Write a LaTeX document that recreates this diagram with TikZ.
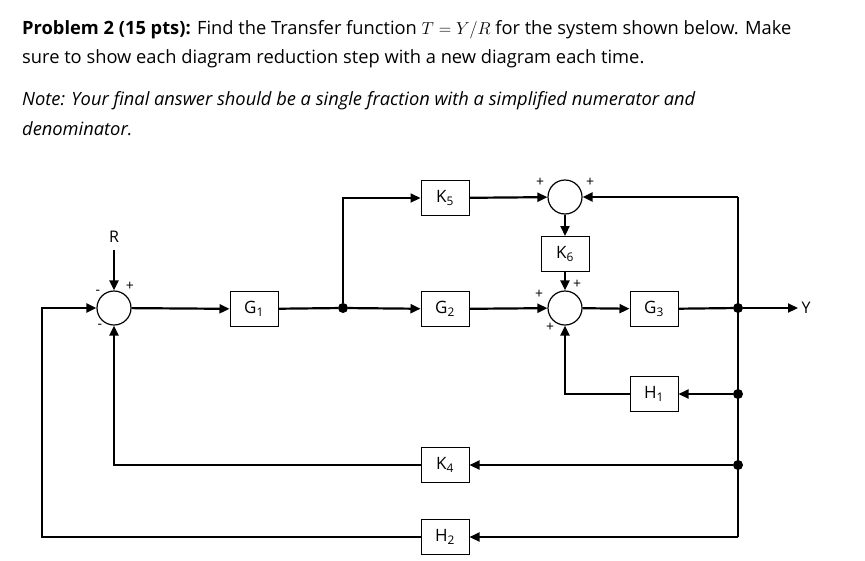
\documentclass[tikz,border=0pt]{standalone}
\usepackage{fontspec}
\setmainfont{Open Sans}
\usetikzlibrary{arrows.meta}
\begin{document}
\begin{tikzpicture}[x=1pt,y=-1pt,
  blk/.style={draw,line width=1pt,minimum width=48pt,minimum height=35pt,inner sep=0pt,font=\fontsize{17}{17}\selectfont},
  sum/.style={draw,circle,line width=1.2pt,minimum size=34pt,inner sep=0pt},
  dot/.style={circle,fill,minimum size=10pt,inner sep=0pt},
  sig/.style={line width=2.2pt,-{Triangle[length=10pt,width=9pt]}},
  ln/.style={line width=2.2pt},
  sg/.style={font=\fontsize{14}{14}\selectfont,inner sep=0pt},
  txt/.style={anchor=west,inner sep=0pt,font=\fontsize{18.3}{18.3}\selectfont}]
\useasboundingbox (0,0) rectangle (865,560);
\node[txt] (t1) at (22,30) {\textbf{Problem 2 (15 pts):} Find the Transfer function $T = Y/R$ for the system shown below. Make};
\node[txt] (t2) at (22,59) {sure to show each diagram reduction step with a new diagram each time.};
\node[txt] (t3) at (22,101) {\itshape Note: Your final answer should be a single fraction with a simplified numerator and};
\node[txt] (t4) at (22,129) {\itshape denominator.};

\node[sum] (s1) at (114,308) {};
\node[sum] (s2) at (565,197) {};
\node[sum] (s3) at (565,308) {};
\node[blk] (g1) at (254,309) {G\textsubscript{1}};
\node[blk] (k5) at (445,198) {K\textsubscript{5}};
\node[blk] (g2) at (445,309) {G\textsubscript{2}};
\node[blk] (k6) at (565,254) {K\textsubscript{6}};
\node[blk] (g3) at (654,309) {G\textsubscript{3}};
\node[blk] (h1) at (654,394) {H\textsubscript{1}};
\node[blk] (k4) at (445,465) {K\textsubscript{4}};
\node[blk] (h2) at (445,537) {H\textsubscript{2}};
\node[font=\fontsize{16}{16}\selectfont] (r) at (114,237) {R};
\node[font=\fontsize{16}{16}\selectfont,anchor=west] (y) at (798,308) {Y};
\node[dot] (d1) at (343,308) {};
\node[dot] (d2) at (738,308) {};
\node[dot] (d3) at (738,394) {};
\node[dot] (d4) at (738,465) {};
\coordinate (c1) at (738,197);
\coordinate (c2) at (738,537);

\draw[sig] (r.south) ++(0,4) -- (s1.north);
\draw[sig] (s1) -- (g1);
\draw[ln] (g1) -- (d1);
\draw[sig] (d1) -- (g2);
\draw[sig] (d1) |- (k5);
\draw[sig] (k5) -- (s2);
\draw[sig] (g2) -- (s3);
\draw[sig] (s2) -- (k6);
\draw[sig] (k6) -- (s3);
\draw[sig] (s3) -- (g3);
\draw[ln] (g3) -- (d2);
\draw[sig] (d2) -- (y.west);
\draw[ln] (c1) -- (c2);
\draw[sig] (c1) -- (s2);
\draw[sig] (d3) -- (h1);
\draw[sig] (h1) -| (s3);
\draw[sig] (d4) -- (k4);
\draw[sig] (k4) -| (s1);
\draw[sig] (c2) -- (h2);
\draw[sig] (h2) -| (42,308) -- (s1);

\node[sg] at (130,286) {+};
\node[sg] at (98,292) {-};
\node[sg] at (100,326) {-};
\node[sg] at (540,182) {+};
\node[sg] at (590,182) {+};
\node[sg] at (577,284) {+};
\node[sg] at (539,294) {+};
\node[sg] at (550,327) {+};
\end{tikzpicture}
\end{document}
